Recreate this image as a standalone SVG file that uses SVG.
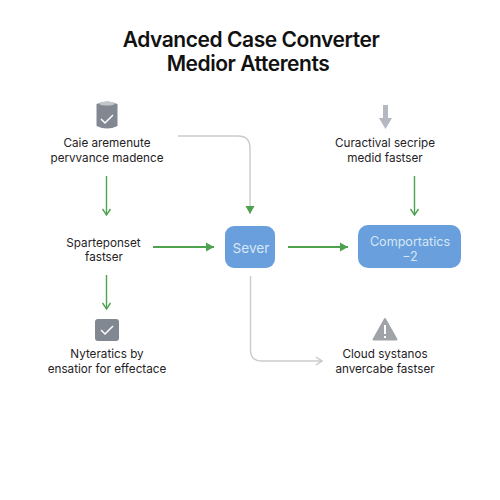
<svg xmlns="http://www.w3.org/2000/svg" width="500" height="500" viewBox="0 0 500 500">
<defs>
<marker id="g" markerUnits="userSpaceOnUse" markerWidth="10" markerHeight="10" refX="9" refY="5" orient="auto"><path d="M1 0.5L9 5L1 9.500Z" fill="#4ea24f"/></marker>
<marker id="gs" markerUnits="userSpaceOnUse" markerWidth="10" markerHeight="10" refX="8" refY="5" orient="auto"><path d="M2 1L8 5L2 9" fill="none" stroke="#4ea24f" stroke-width="1.4"/></marker>
<marker id="c" markerUnits="userSpaceOnUse" markerWidth="10" markerHeight="10" refX="8" refY="5" orient="auto"><path d="M2 1L8 5L2 9" fill="none" stroke="#c5c7c9" stroke-width="1.4"/></marker>
</defs>
<style>
text{font-family:Inter,"Liberation Sans",sans-serif;font-size:11.7px;fill:#1f2226;text-anchor:middle}
.t{font-size:21px;font-weight:600;fill:#111;letter-spacing:-.45px}
.w{fill:#d7e6f7;font-size:12.6px}
.s{font-size:13.6px}
.box{fill:#689fdc}
.gl{fill:none;stroke:#4ea24f;stroke-width:1.4}
.gb{fill:none;stroke:#4ea24f;stroke-width:2}
.cl{fill:none;stroke:#c9cbcd;stroke-width:1.4}
.ck{fill:none;stroke:#fff;stroke-width:1.5}
</style>
<rect width="500" height="500" fill="#fff"/>
<g id="title"><text class="t" x="251" y="47">Advanced Case Converter</text><text class="t" x="248" y="71">Medior Atterents</text></g>
<g id="connectors">
<path class="gl" d="M106.500 176V215" marker-end="url(#gs)"/>
<path class="gl" d="M106.500 275V309" marker-end="url(#gs)"/>
<path class="gl" d="M414.500 176V215" marker-end="url(#gs)"/>
<path class="gb" d="M153 247H214" marker-end="url(#g)"/>
<path class="gb" d="M288 247H348" marker-end="url(#g)"/>
<path class="cl" d="M178 136H238Q250 136 250 148V214" marker-end="url(#g)"/>
<path class="cl" d="M250.500 276V350Q250.500 361 262 361H322" marker-end="url(#c)"/>
</g>
<g id="node-cache">
<path d="M96.500 104Q107 99 117.500 104V126Q107 131 96.500 126Z" fill="#818892"/>
<ellipse cx="107" cy="103.500" rx="8" ry="2" fill="#c3c6ca"/>
<path class="ck" d="M101 119L105 123L113 115"/>
<text x="107" y="147">Caie aremenute</text><text x="107" y="161.500">pervvance madence</text>
</g>
<g id="node-curactival">
<path d="M383 105H388V118H392L385.500 129L379 118H383Z" fill="#b4b8c1"/>
<text x="385" y="147">Curactival secripe</text><text x="385" y="161.500">medid fastser</text>
</g>
<g id="node-sparte">
<text x="103.500" y="246.500">Sparteponset</text><text x="104" y="261">fastser</text>
</g>
<g id="node-server">
<rect class="box" x="225" y="226" width="50" height="42" rx="9"/>
<text class="w s" x="251" y="253">Sever</text>
</g>
<g id="node-comportatics">
<rect class="box" x="358" y="225" width="103" height="43" rx="10"/>
<text class="w" x="410" y="246">Comportatics</text><text class="w" x="410" y="261">−2</text>
</g>
<g id="node-nyteratics">
<rect x="95" y="319" width="24" height="22" rx="3" fill="#818892"/>
<path class="ck" d="M101 330L105 334L113 326"/>
<text x="107" y="358">Nyteratics by</text><text x="107" y="372.500">ensatior for effectace</text>
</g>
<g id="node-cloud">
<path d="M385 319L396.500 339.500H373.500Z" fill="#a0a3a8" stroke="#a0a3a8" stroke-width="2" stroke-linejoin="round"/>
<rect x="384" y="325" width="2" height="9" fill="#fff"/><rect x="384" y="336" width="2" height="2" fill="#fff"/>
<text x="385" y="358">Cloud systanos</text><text x="385" y="372.500">anvercabe fastser</text>
</g>
</svg>
